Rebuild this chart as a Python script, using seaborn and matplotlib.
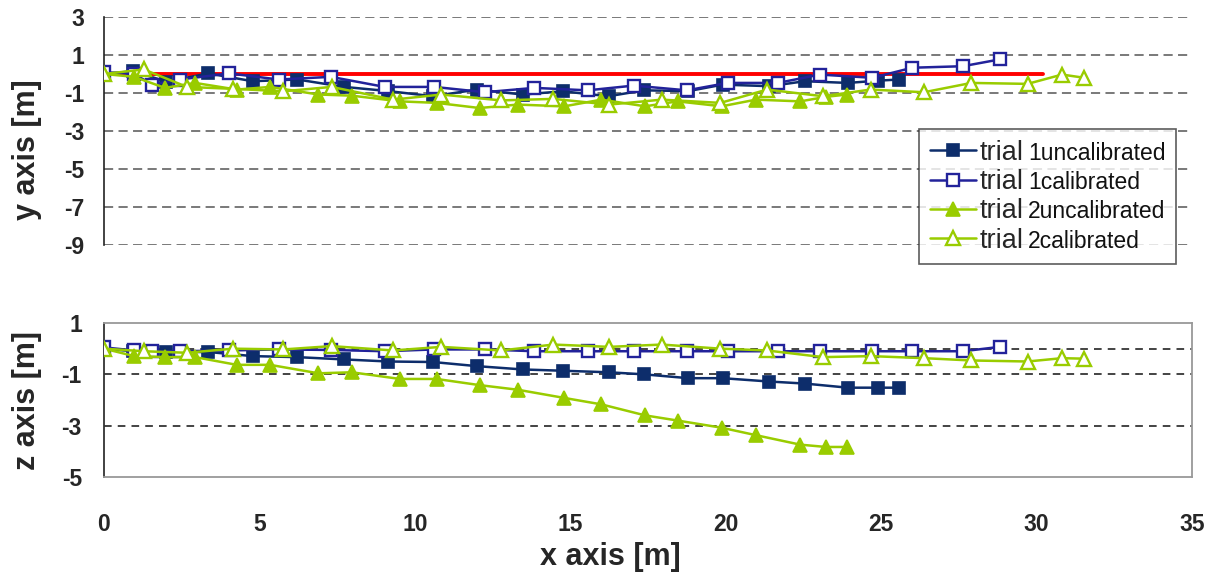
import matplotlib
matplotlib.use("Agg")
import matplotlib.pyplot as plt
import seaborn as sns
from matplotlib import font_manager
from matplotlib.offsetbox import TextArea

# ---------------- data ----------------
T1U_X = [0, 0.94, 2.0, 3.36, 4.78, 6.22, 7.73, 9.15, 10.58, 11.99, 13.47, 14.76, 16.23, 17.37, 18.8, 19.9, 21.4, 22.55, 23.93, 24.9, 25.58]
T1U_Y = [0, 0.15, -0.4, 0.03, -0.38, -0.29, -0.68, -0.9, -1.17, -0.82, -1.08, -0.91, -1.17, -0.86, -0.9, -0.56, -0.64, -0.38, -0.47, -0.35, -0.29]
T1U_Z = [0, -0.1, -0.13, -0.13, -0.29, -0.33, -0.42, -0.5, -0.52, -0.68, -0.81, -0.86, -0.92, -1.0, -1.15, -1.15, -1.28, -1.36, -1.52, -1.52, -1.52]

T1C_X = [0, 0.97, 1.55, 2.43, 4.03, 5.62, 7.3, 9.03, 10.63, 12.25, 13.84, 15.56, 17.04, 18.75, 20.06, 21.68, 23.03, 24.72, 26.0, 27.63, 28.82]
T1C_Y = [0.1, 0.0, -0.56, -0.29, 0.03, -0.29, -0.15, -0.68, -0.68, -0.96, -0.73, -0.86, -0.61, -0.86, -0.47, -0.47, -0.03, -0.2, 0.33, 0.41, 0.77]
T1C_Z = [0.05, -0.07, -0.1, -0.1, -0.07, -0.03, -0.05, -0.1, -0.03, -0.03, -0.1, -0.1, -0.1, -0.1, -0.1, -0.1, -0.1, -0.1, -0.1, -0.1, 0.07]

T2U_X = [0, 0.97, 1.96, 2.93, 4.27, 5.34, 6.9, 7.97, 9.52, 10.7, 12.08, 13.31, 14.81, 16.0, 17.41, 18.45, 19.87, 20.97, 22.4, 23.23, 23.9]
T2U_Y = [0, -0.15, -0.73, -0.47, -0.82, -0.68, -1.08, -1.14, -1.44, -1.52, -1.79, -1.61, -1.7, -1.35, -1.7, -1.44, -1.7, -1.35, -1.44, -1.2, -1.08]
T2U_Z = [0, -0.29, -0.33, -0.33, -0.63, -0.63, -0.96, -0.92, -1.18, -1.18, -1.42, -1.6, -1.92, -2.17, -2.6, -2.8, -3.08, -3.37, -3.74, -3.83, -3.83]

T2C_X = [0, 1.28, 2.67, 4.15, 5.77, 7.32, 9.3, 10.85, 12.77, 14.46, 16.25, 17.94, 19.83, 21.33, 23.13, 24.66, 26.38, 27.9, 29.71, 30.82, 31.54]
T2C_Y = [0, 0.24, -0.68, -0.78, -0.91, -0.68, -1.35, -1.08, -1.39, -1.31, -1.61, -1.35, -1.52, -0.82, -1.17, -0.82, -0.96, -0.47, -0.52, -0.03, -0.2]
T2C_Z = [0, -0.1, -0.16, 0, -0.03, 0.1, -0.07, 0.07, -0.07, 0.16, 0.07, 0.16, 0, -0.07, -0.33, -0.29, -0.37, -0.46, -0.5, -0.37, -0.39]

GT_X = [0.3, 30.2]
GT_Y = [0, 0]

SERIES_TRIAL = ["trial", "trial", "trial", "trial"]
SERIES_SUFFIX = ["1uncalibrated", "1calibrated", "2uncalibrated", "2calibrated"]

Y_TICKS = [3, 1, -1, -3, -5, -7, -9]
Z_TICKS = [1, -1, -3, -5]
X_TICKS = [0, 5, 10, 15, 20, 25, 30, 35]
Y_LABEL = "y axis [m]"
Z_LABEL = "z axis [m]"
X_LABEL = "x axis [m]"

# ---------------- style ----------------
sns.set_style("white")
names = {f.name for f in font_manager.fontManager.ttflist}
NARROW = "Liberation Sans Narrow" if "Liberation Sans Narrow" in names else "Liberation Sans"
plt.rcParams["font.family"] = ["Liberation Sans", "DejaVu Sans"]

C_T1U = "#0d2d6b"
C_T1C = "#22229a"
C_T2 = "#99cc00"

fig = plt.figure(figsize=(12.1, 5.8), dpi=100)
W, H = 1210, 580
ax1 = fig.add_axes([104 / W, 1 - 245 / H, 1088 / W, 228 / H])
ax2 = fig.add_axes([104 / W, 1 - 477 / H, 1088 / W, 154 / H])

styles = [
    dict(color=C_T1U, marker="s", markersize=8, markerfacecolor=C_T1U, markeredgecolor=C_T1U, markeredgewidth=1.2),
    dict(color=C_T1C, marker="s", markersize=8, markerfacecolor="white", markeredgecolor=C_T1C, markeredgewidth=1.7),
    dict(color=C_T2, marker="^", markersize=9.5, markerfacecolor=C_T2, markeredgecolor=C_T2, markeredgewidth=1.2),
    dict(color=C_T2, marker="^", markersize=9.5, markerfacecolor="white", markeredgecolor=C_T2, markeredgewidth=1.7),
]
top_data = [(T1U_X, T1U_Y), (T1C_X, T1C_Y), (T2U_X, T2U_Y), (T2C_X, T2C_Y)]
bot_data = [(T1U_X, T1U_Z), (T1C_X, T1C_Z), (T2U_X, T2U_Z), (T2C_X, T2C_Z)]

# ground truth red line
sns.lineplot(x=GT_X, y=GT_Y, ax=ax1, color="#ff0000", linewidth=2.8, zorder=2, estimator=None, sort=False)

handles = []
for (xs, ys), st in zip(top_data, styles):
    sns.lineplot(x=xs, y=ys, ax=ax1, linewidth=1.8, estimator=None, sort=False, zorder=3, **st)
    handles.append(ax1.lines[-1])
for (xs, zs), st in zip(bot_data, styles):
    sns.lineplot(x=xs, y=zs, ax=ax2, linewidth=1.8, estimator=None, sort=False, zorder=3, **st)

tick_font = dict(family=[NARROW, "Liberation Sans", "DejaVu Sans"], weight="bold", size=16.5)

# ---- top axes ----
ax1.set_xlim(0, 35)
ax1.set_ylim(-9, 3)
ax1.set_yticks(Y_TICKS)
ax1.set_yticklabels([str(v) for v in Y_TICKS], fontdict=tick_font)
ax1.set_xticks([])
for s in ["top", "right", "bottom"]:
    ax1.spines[s].set_visible(False)
ax1.spines["left"].set_color("#222222")
ax1.spines["left"].set_linewidth(1.2)
ax1.tick_params(axis="y", length=0, pad=14)
ax1.grid(axis="y", color="#555555", linestyle=(0, (6, 3.5)), linewidth=1.1)
ax1.set_axisbelow(True)
ax1.set_ylabel(Y_LABEL, fontsize=22, fontweight="bold")
ax1.yaxis.set_label_coords(-0.057, 0.42)

# ---- bottom axes ----
ax2.set_xlim(0, 35)
ax2.set_ylim(-5, 1)
ax2.set_yticks(Z_TICKS)
ax2.set_yticklabels([str(v) for v in Z_TICKS], fontdict=tick_font)
ax2.set_xticks(X_TICKS)
ax2.set_xticklabels([str(v) for v in X_TICKS], fontdict=tick_font)
ax2.tick_params(axis="y", length=0, pad=16)
ax2.tick_params(axis="x", length=0, pad=26)
for s in ["top", "right", "bottom"]:
    ax2.spines[s].set_color("#999999")
    ax2.spines[s].set_linewidth(1.3)
ax2.spines["left"].set_color("#333333")
ax2.spines["left"].set_linewidth(1.3)
for v in [0, -1, -3]:
    ax2.axhline(v, color="#111111", linestyle=(0, (5, 4)), linewidth=1.1, zorder=1)
ax2.set_ylabel(Z_LABEL, fontsize=22, fontweight="bold")
ax2.yaxis.set_label_coords(-0.057, 0.5)
ax2.set_xlabel(X_LABEL, fontsize=22, fontweight="bold")
ax2.xaxis.set_label_coords(0.465, -0.425)

# ---- legend ----
leg = ax1.legend(handles, SERIES_TRIAL, loc="upper left",
                 bbox_to_anchor=(919 / W, 1 - 129 / H), bbox_transform=fig.transFigure,
                 borderaxespad=0, frameon=True, fancybox=False, fontsize=19.5,
                 handlelength=1.7, handletextpad=0.15, labelspacing=0.12, borderpad=0.4)
leg.get_frame().set_edgecolor("#333333")
leg.get_frame().set_linewidth(1.2)
col = leg._legend_handle_box.get_children()[0]
for itembox, suf in zip(col.get_children(), SERIES_SUFFIX):
    ta = TextArea(suf, textprops=dict(fontsize=16.5, color="#111111", family=[NARROW, "Liberation Sans", "DejaVu Sans"]))
    ta.set_figure(fig)
    itembox.get_children().append(ta)

fig.savefig("out.png", dpi=100, facecolor="white")
